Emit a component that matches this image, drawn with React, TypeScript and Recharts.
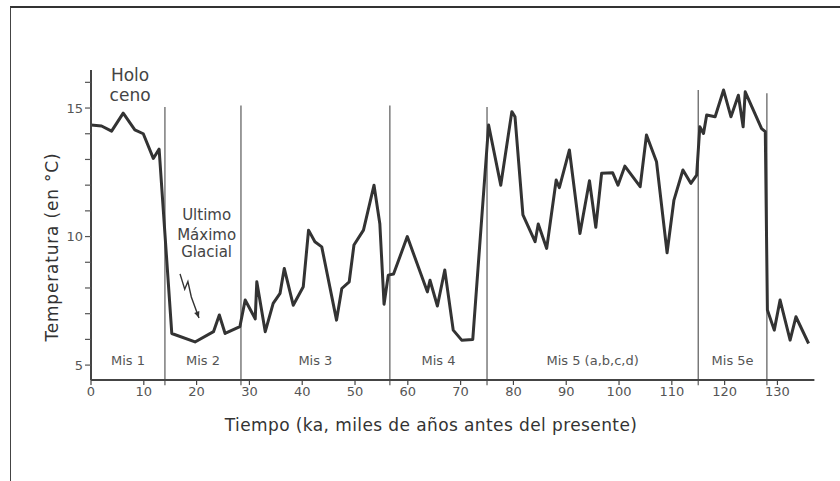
import React from 'react';
import * as RC from 'recharts';

const { LineChart, Line, XAxis, YAxis, ReferenceLine, Customized } = RC as any;

// Age (ka) and temperature (°C)
const ages = [
  0, 2.0, 3.9, 6.1, 8.3, 9.9, 11.8, 12.9, 15.3, 19.7, 23.2, 24.3, 25.4, 28.2,
  29.2, 31.1, 31.4, 33.0, 34.5, 35.8, 36.6, 38.3, 40.2, 41.2, 42.4, 43.7, 46.5,
  47.5, 48.9, 49.8, 51.6, 53.6, 54.7, 55.5, 56.3, 57.3, 59.9, 63.7, 64.2, 65.6,
  67.0, 68.6, 70.2, 72.3, 75.3, 77.6, 79.7, 80.3, 81.8, 84.1, 84.7, 86.3, 88.1,
  88.7, 90.6, 92.6, 94.4, 95.6, 96.7, 98.8, 99.8, 101.1, 104.0, 105.2, 107.1,
  109.1, 110.4, 112.1, 113.6, 114.7, 115.3, 116.0, 116.6, 118.2, 119.8, 121.2,
  122.6, 123.5, 123.9, 127.0, 127.7, 128.1, 129.4, 130.5, 132.4, 133.5, 135.9,
];
const temps = [
  14.34, 14.3, 14.1, 14.8, 14.15, 14.0, 13.04, 13.4, 6.23, 5.9, 6.3, 6.95, 6.23, 6.5,
  7.53, 6.8, 8.24, 6.3, 7.4, 7.79, 8.76, 7.33, 8.05, 10.25, 9.8, 9.6, 6.75,
  7.98, 8.24, 9.67, 10.25, 12.0, 10.5, 7.37, 8.5, 8.54, 10.0, 7.85, 8.3, 7.3,
  8.7, 6.36, 5.97, 6.0, 14.34, 12.0, 14.86, 14.66, 10.84, 9.8, 10.49, 9.54, 12.2,
  11.9, 13.37, 10.12, 12.17, 10.36, 12.46, 12.48, 12.0, 12.74, 11.94, 13.95, 12.91,
  9.37, 11.42, 12.59, 12.07, 12.39, 14.27, 14.01, 14.73, 14.66, 15.7, 14.66,
  15.5, 14.27, 15.63, 14.2, 14.08, 7.14, 6.36, 7.53, 5.97, 6.88, 5.84,
];

const xTicks = [0, 10, 20, 30, 40, 50, 60, 70, 80, 90, 100, 110, 120, 130];
const yTicks = [5, 6, 7, 8, 9, 10, 11, 12, 13, 14, 15, 16];
const yLabelled = [5, 10, 15];

const misBounds = [14, 28.4, 56.6, 75, 115, 128];
const misTops = [15.04, 15.1, 15.1, 15.04, 15.7, 15.58];
const misNames = ['Mis 1', 'Mis 2', 'Mis 3', 'Mis 4', 'Mis 5 (a,b,c,d)', 'Mis 5e'];
const misStarts = [0, 14, 28.4, 56.6, 75, 115];
const misEnds = [14, 28.4, 56.6, 75, 115, 128];

const holoLines = ['Holo', 'ceno'];
const lgmLines = ['Ultimo', 'Máximo', 'Glacial'];
const xTitle = 'Tiempo (ka, miles de años antes del presente)';
const yTitle = 'Temperatura (en °C)';

const X_MIN = 0;
const X_MAX = 137;
const Y_MIN = 4.42;
const Y_MAX = 16.48;
const BOTTOM_EXT = 4.22;

const data = ages.map((a, i) => ({ age: a, temp: temps[i] }));

const FONT = '"DejaVu Sans", "Noto Sans", sans-serif';

function Annotations() {
  const hook = (RC as any).usePlotArea;
  const pa = hook ? hook() : null;
  const area = pa && pa.width ? pa : { x: 91, y: 70, width: 723.4, height: 310 };
  const sx = (v: number) => area.x + ((v - X_MIN) / (X_MAX - X_MIN)) * area.width;
  const sy = (v: number) => area.y + ((Y_MAX - v) / (Y_MAX - Y_MIN)) * area.height;

  const arrow: [number, number][] = [
    [16.86, 8.55], [17.75, 7.95], [18.35, 8.25], [19.0, 7.65], [20.45, 6.83],
  ];
  const pts = arrow.map(([a, t]) => [sx(a), sy(t)]);
  const d = pts.map((p, i) => `${i ? 'L' : 'M'}${p[0]},${p[1]}`).join(' ');
  const end = pts[pts.length - 1];
  const prev = pts[pts.length - 2];
  const ang = Math.atan2(end[1] - prev[1], end[0] - prev[0]);
  const ah = 7;
  const head = `M${end[0]},${end[1]} L${end[0] - ah * Math.cos(ang - 0.4)},${end[1] - ah * Math.sin(ang - 0.4)} L${end[0] - ah * Math.cos(ang + 0.4)},${end[1] - ah * Math.sin(ang + 0.4)} Z`;

  const holoY = [16.28, 15.51];
  const lgmY = [10.84, 10.06, 9.4];

  return (
    <g>
      {misNames.map((n, i) => (
        <text
          key={n}
          x={sx((misStarts[i] + misEnds[i]) / 2)}
          y={sy(5.16)}
          textAnchor="middle"
          dominantBaseline="central"
          fontSize={13}
          fill="#555"
          fontFamily={FONT}
        >
          {n}
        </text>
      ))}
      {holoLines.map((t, i) => (
        <text key={t} x={sx(7.4)} y={sy(holoY[i])} textAnchor="middle" dominantBaseline="central"
          fontSize={17} fill="#444" fontFamily={FONT}>
          {t}
        </text>
      ))}
      {lgmLines.map((t, i) => (
        <text key={t} x={sx(21.9)} y={sy(lgmY[i])} textAnchor="middle" dominantBaseline="central"
          fontSize={15} fill="#444" fontFamily={FONT}>
          {t}
        </text>
      ))}
      <path d={d} fill="none" stroke="#333" strokeWidth={1.4} />
      <path d={head} fill="#333" />
      <text x={sx(64.4)} y={sy(2.67)} textAnchor="middle" dominantBaseline="central"
        fontSize={17} letterSpacing={0.4} fill="#333" fontFamily={FONT}>
        {xTitle}
      </text>
      <text
        x={sx(-7.39)}
        y={sy(9.59)}
        textAnchor="middle"
        dominantBaseline="central"
        fontSize={17}
        letterSpacing={0.8}
        fill="#333"
        fontFamily={FONT}
        transform={`rotate(-90 ${sx(-7.39)} ${sy(9.59)})`}
      >
        {yTitle}
      </text>
    </g>
  );
}

export default function App() {
  return (
    <div style={{ position: 'absolute', left: 0, top: 0, width: 840, height: 481, background: '#fff' }}>
      <div
        style={{
          position: 'absolute',
          left: 10,
          top: 6,
          width: 830,
          height: 475,
          borderTop: '2px solid #333',
          borderLeft: '1.5px solid #444',
          boxSizing: 'border-box',
        }}
      />
      <div style={{ position: 'absolute', left: 0, top: 0 }}>
        <LineChart
          width={840}
          height={481}
          data={data}
          margin={{ top: 70, right: 25.6, bottom: 71, left: 51 }}
        >
          <XAxis
            dataKey="age"
            type="number"
            domain={[X_MIN, X_MAX]}
            ticks={xTicks}
            allowDataOverflow
            tickSize={5}
            tickLine={{ stroke: '#444', strokeWidth: 1.2 }}
            axisLine={{ stroke: '#444', strokeWidth: 2 }}
            tick={{ fill: '#555', fontSize: 13, fontFamily: FONT }}
            height={30}
            interval={0}
          />
          <YAxis
            type="number"
            domain={[Y_MIN, Y_MAX]}
            ticks={yTicks}
            allowDataOverflow
            width={40}
            tickSize={6}
            tickLine={{ stroke: '#555', strokeWidth: 1.2 }}
            axisLine={{ stroke: '#444', strokeWidth: 2 }}
            tick={{ fill: '#555', fontSize: 13, fontFamily: FONT }}
            tickFormatter={(v: number) => (yLabelled.includes(v) ? String(v) : '')}
            interval={0}
          />
          {misBounds.map((b, i) => (
            <ReferenceLine
              key={b}
              segment={[{ x: b, y: BOTTOM_EXT }, { x: b, y: misTops[i] }]}
              stroke="#666"
              strokeWidth={1.3}
              ifOverflow="visible"
            />
          ))}
          <Line
            type="linear"
            dataKey="temp"
            stroke="#333"
            strokeWidth={3}
            dot={false}
            isAnimationActive={false}
            strokeLinejoin="round"
          />
          <Customized component={Annotations} />
        </LineChart>
      </div>
    </div>
  );
}
